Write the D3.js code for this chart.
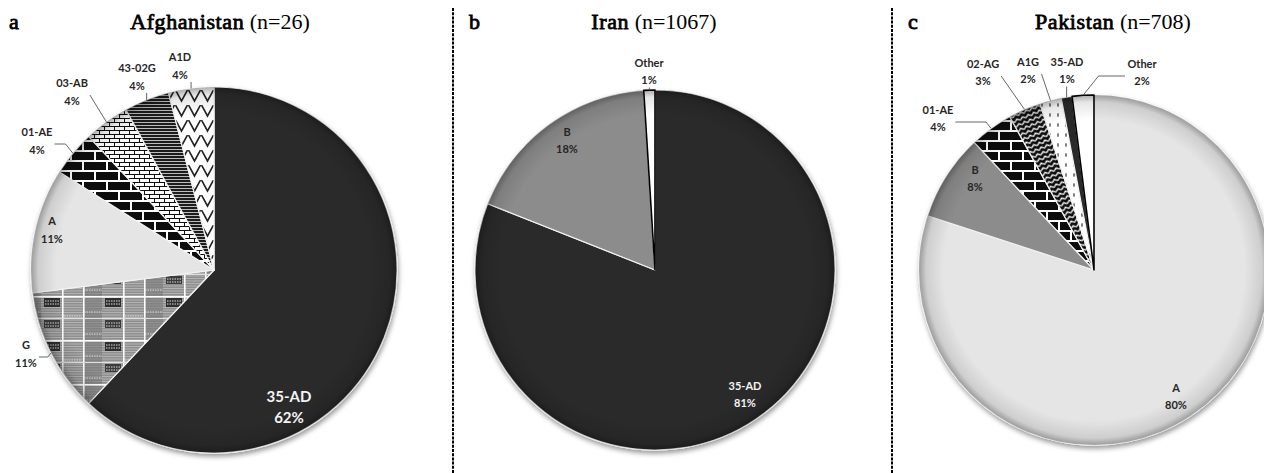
<!DOCTYPE html>
<html>
<head>
<meta charset="utf-8">
<script src="https://cdn.jsdelivr.net/npm/d3@7"></script>
<style>
  body { margin: 0; background: #fff; }
  svg { display: block; }
  .serif { font-family: 'Liberation Serif', 'Times New Roman', serif; }
</style>
</head>
<body>
<div id="chart"></div>
<script>
// panel data
const panelLetters = ['a', 'b', 'c'];
const countries = ['Afghanistan', 'Iran', 'Pakistan'];
const sampleSizes = [26, 1067, 708];

const afgGenotypes = ['35-AD', 'G', 'A', '01-AE', '03-AB', '43-02G', 'A1D'];
const afgPercents = [62, 11, 11, 4, 4, 4, 4];
const iranGenotypes = ['35-AD', 'B', 'Other'];
const iranPercents = [81, 18, 1];
const pakGenotypes = ['A', 'B', '01-AE', '02-AG', 'A1G', '35-AD', 'Other'];
const pakPercents = [80, 8, 4, 3, 2, 1, 2];

const width = 1264;
const height = 473;

// layout: pie centres, radius, label offsets from centre (dx, dy)
const pieLayout = [
  { cx: 214, cy: 270, r: 183, titleX: 220, letterX: 9, sepX: null },
  { cx: 655, cy: 270, r: 180, titleX: 654, letterX: 469, sepX: 453 },
  { cx: 1094, cy: 270, r: 175, titleX: 1113, letterX: 908, sepX: 892 }
];
const afgLabelPos = [[75, 137], [-188, 84], [-162, -40], [-177, -129], [-142, -178], [-77, -193], [-34, -204]];
const iranLabelPos = [[90, 125], [-88, -129], [-6, -198]];
const pakLabelPos = [[82, 127], [-119, -91], [-156, -151], [-111, -197], [-66, -199], [-27, -199], [48, -197]];

const svg = d3.select('#chart').append('svg')
  .attr('width', width)
  .attr('height', height);

const defs = svg.append('defs');

function pattern(id, w, h) {
  return defs.append('pattern')
    .attr('id', id)
    .attr('patternUnits', 'userSpaceOnUse')
    .attr('width', w)
    .attr('height', h);
}

// big bricks, black with white mortar
let p = pattern('bricksBig', 24, 20);
p.append('rect').attr('width', 24).attr('height', 20).attr('fill', '#0a0a0a');
p.append('rect').attr('y', 0).attr('width', 24).attr('height', 2).attr('fill', '#fff');
p.append('rect').attr('y', 10).attr('width', 24).attr('height', 2).attr('fill', '#fff');
p.append('rect').attr('x', 0).attr('y', 0).attr('width', 2).attr('height', 10).attr('fill', '#fff');
p.append('rect').attr('x', 12).attr('y', 10).attr('width', 2).attr('height', 10).attr('fill', '#fff');

// small bricks, white with black lines
p = pattern('bricksSmall', 10, 8);
p.append('rect').attr('width', 10).attr('height', 8).attr('fill', '#fff');
p.append('path').attr('d', 'M0,0.5H10M0,4.5H10M0.5,0V4.5M5.5,4.5V8')
  .attr('stroke', '#111').attr('stroke-width', 1).attr('fill', 'none');

// horizontal lines
p = pattern('hLines', 6, 3);
p.append('rect').attr('width', 6).attr('height', 3).attr('fill', '#bdbdbd');
p.append('rect').attr('width', 6).attr('height', 2).attr('fill', '#1e1e1e');

// big zigzag on white
p = pattern('zigBig', 13, 15);
p.append('rect').attr('width', 13).attr('height', 15).attr('fill', '#fff');
p.append('path').attr('d', 'M0.5,0 L6.5,11 L12.5,0')
  .attr('stroke', '#222').attr('stroke-width', 1.6).attr('fill', 'none');

// small zigzag, white on black
p = pattern('zigSmall', 6, 5).attr('patternTransform', 'rotate(-22)');
p.append('rect').attr('width', 6).attr('height', 5).attr('fill', '#0a0a0a');
p.append('path').attr('d', 'M0,3.6 L3,1.2 L6,3.6')
  .attr('stroke', '#fff').attr('stroke-width', 1.3).attr('fill', 'none');

// dots
p = pattern('dots', 8, 10);
p.append('rect').attr('width', 8).attr('height', 10).attr('fill', '#fff');
p.append('ellipse').attr('cx', 4).attr('cy', 5).attr('rx', 0.9).attr('ry', 2).attr('fill', '#666');

// plaid for G: white grid, grey stripes, dark blocks
p = pattern('plaid', 61, 44).attr('patternTransform', 'translate(31,290)');
p.append('rect').attr('width', 61).attr('height', 44).attr('fill', '#8f8f8f');
d3.range(1, 44, 2.5).forEach((y) => {
  p.append('rect').attr('y', y).attr('width', 61).attr('height', 1).attr('fill', '#b3b3b3');
});
p.append('rect').attr('x', 21).attr('y', 0).attr('width', 19).attr('height', 44).attr('fill', '#7a7a7a').attr('opacity', 0.6);
p.append('rect').attr('x', 43).attr('y', 2).attr('width', 16).attr('height', 9).attr('fill', '#2e2e2e');
p.append('rect').attr('x', 43).attr('y', 24).attr('width', 16).attr('height', 8).attr('fill', '#3a3a3a');
p.append('path').attr('d', 'M44,5H58M44,8H58M44,27H58M44,30H58M22,16H40M2,20H20M22,38H40')
  .attr('stroke', '#ddd').attr('stroke-width', 1).attr('stroke-dasharray', '1.5,1');
p.append('rect').attr('x', 0).attr('width', 1.6).attr('height', 44).attr('fill', '#fff');
p.append('rect').attr('x', 21).attr('width', 1.6).attr('height', 44).attr('fill', '#fff');
p.append('rect').attr('y', 0).attr('width', 61).attr('height', 1.6).attr('fill', '#fff');
p.append('rect').attr('y', 22).attr('width', 61).attr('height', 1).attr('fill', '#e0e0e0');

// rim shading and shadow
const rim = defs.append('radialGradient').attr('id', 'rim');
rim.append('stop').attr('offset', '0.86').attr('stop-color', '#000').attr('stop-opacity', 0);
rim.append('stop').attr('offset', '0.96').attr('stop-color', '#000').attr('stop-opacity', 0.1);
rim.append('stop').attr('offset', '1').attr('stop-color', '#000').attr('stop-opacity', 0.32);

defs.append('filter').attr('id', 'shadow')
  .attr('x', '-10%').attr('y', '-10%').attr('width', '120%').attr('height', '125%')
  .append('feDropShadow')
  .attr('dx', 1).attr('dy', 3).attr('stdDeviation', 2.5)
  .attr('flood-color', '#000').attr('flood-opacity', 0.4);

const fills = {
  '35-AD': '#2b2b2b',
  'A': '#e5e5e5',
  'B': '#8c8c8c',
  'G': 'url(#plaid)',
  '01-AE': 'url(#bricksBig)',
  '03-AB': 'url(#bricksSmall)',
  '43-02G': 'url(#hLines)',
  'A1D': 'url(#zigBig)',
  '02-AG': 'url(#zigSmall)',
  'A1G': 'url(#dots)',
  'Other': '#ffffff'
};

const panels = [
  { genotypes: afgGenotypes, values: afgPercents, labelPos: afgLabelPos, big: '35-AD' },
  { genotypes: iranGenotypes, values: iranPercents, labelPos: iranLabelPos, big: null },
  { genotypes: pakGenotypes, values: pakPercents, labelPos: pakLabelPos, big: null }
];

const pie = d3.pie().sort(null).value((d) => d.value);

panels.forEach((panel, i) => {
  const lay = pieLayout[i];
  const data = panel.genotypes.map((g, j) => ({ name: g, value: panel.values[j], pos: panel.labelPos[j] }));
  const arcs = pie(data);
  const arc = d3.arc().innerRadius(0).outerRadius(lay.r);
  const rimArc = d3.arc().innerRadius(lay.r).outerRadius(lay.r);

  // separator
  if (lay.sepX !== null) {
    svg.append('line')
      .attr('x1', lay.sepX).attr('x2', lay.sepX)
      .attr('y1', 8).attr('y2', height)
      .attr('stroke', '#000')
      .attr('stroke-width', 2)
      .attr('stroke-dasharray', '3,1.2');
  }

  // panel letter and title (bold drawn as regular serif with a thin stroke)
  svg.append('text')
    .attr('class', 'serif')
    .attr('x', lay.letterX).attr('y', 29)
    .attr('font-size', '22px')
    .attr('stroke', '#000')
    .attr('stroke-width', 0.8)
    .text(panelLetters[i]);

  const title = svg.append('text')
    .attr('class', 'serif')
    .attr('x', lay.titleX).attr('y', 29)
    .attr('text-anchor', 'middle')
    .attr('font-size', '22px');
  title.append('tspan')
    .attr('stroke', '#000')
    .attr('stroke-width', 0.8)
    .attr('letter-spacing', '0.6px')
    .text(countries[i]);
  title.append('tspan').text(` (n=${sampleSizes[i]})`);

  const g = svg.append('g').attr('transform', `translate(${lay.cx},${lay.cy})`);
  const pieG = g.append('g').attr('filter', 'url(#shadow)');

  pieG.selectAll('path')
    .data(arcs)
    .join('path')
    .attr('d', arc)
    .attr('fill', (d) => fills[d.data.name])
    .attr('stroke', (d) => (d.data.name === 'Other' ? '#000' : '#f2f2f2'))
    .attr('stroke-width', (d) => (d.data.name === 'Other' ? 1.6 : 1.2))
    .attr('stroke-linejoin', 'round');

  g.append('circle')
    .attr('r', lay.r)
    .attr('fill', 'url(#rim)')
    .attr('pointer-events', 'none');

  // labels
  arcs.forEach((d) => {
    const isBig = d.data.name === panel.big;
    const isWhite = d.data.name === '35-AD' && i < 2;
    const fs = isBig ? 15 : 11;
    const gap = isBig ? 21 : (i === 0 ? 18 : 17);
    const [lx, ly] = d.data.pos;
    const t = g.append('text')
      .attr('text-anchor', 'middle')
      .attr('font-family', 'Lato, "Open Sans", sans-serif')
      .attr('font-weight', 'bold')
      .attr('font-size', `${fs}px`)
      .attr('fill', isWhite ? '#f4f4f4' : '#262626');
    t.append('tspan').attr('x', lx).attr('y', ly - gap / 2 + fs * 0.36).text(d.data.name);
    t.append('tspan').attr('x', lx).attr('y', ly + gap / 2 + fs * 0.36).text(`${d.data.value}%`);

    // leader line when the label sits outside the pie
    if (Math.hypot(lx, ly) > lay.r) {
      const [rx, ry] = rimArc.centroid(d);
      const w = t.node().getBBox().width;
      let start;
      if (Math.abs(rx - lx) < w / 2 + 2) {
        start = [rx, ly + gap / 2 + 7];
      } else {
        const side = rx > lx ? 1 : -1;
        start = [lx + side * (w / 2 + 2), ly + 3];
      }
      const side = rx > start[0] ? 1 : -1;
      const run = Math.max(0, Math.abs(rx - start[0]) - Math.abs(ry - start[1]) * 0.8);
      const elbow = [start[0] + side * run, start[1]];
      g.append('path')
        .attr('d', d3.line()([start, elbow, [rx, ry]]))
        .attr('fill', 'none')
        .attr('stroke', '#555')
        .attr('stroke-width', 0.9);
    }
  });
});
</script>
</body>
</html>
